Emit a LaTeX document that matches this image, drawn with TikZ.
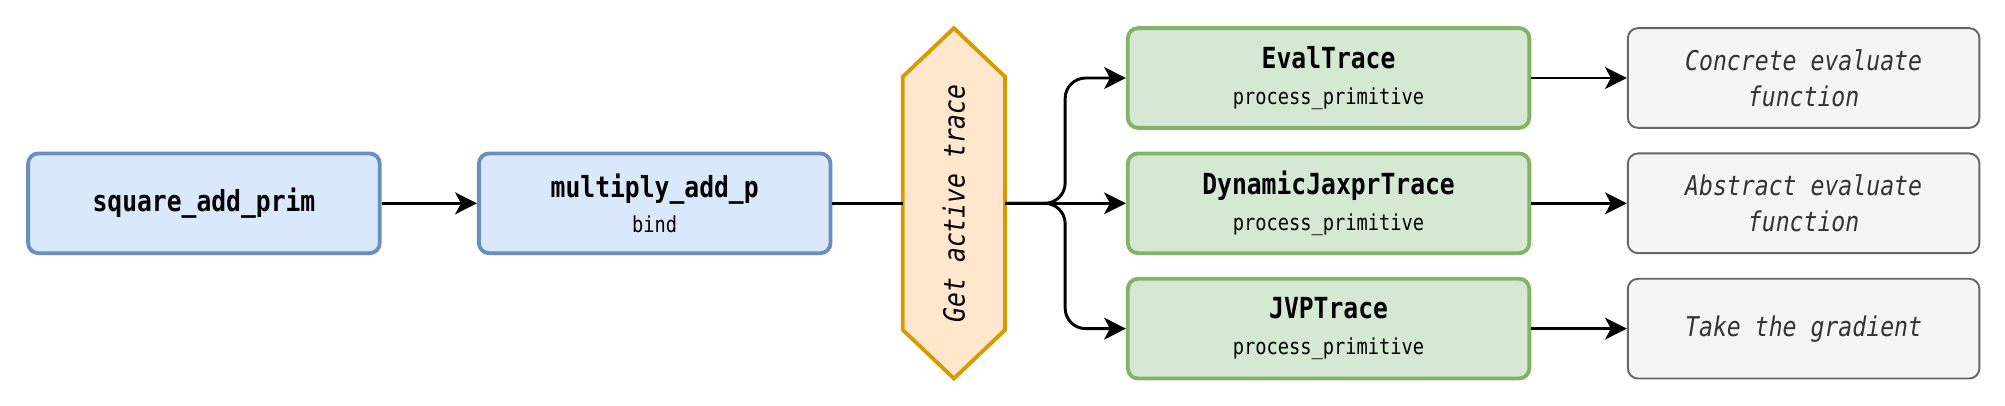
\documentclass[tikz,border=0pt]{standalone}
\usepackage{fontspec}
\usepackage{graphicx}
\setmonofont[FakeStretch=0.85,
  BoldFont={DejaVu Sans Mono Bold},
  ItalicFont={DejaVu Sans Mono Oblique}]{DejaVu Sans Mono}
\usetikzlibrary{arrows.meta}
\definecolor{blueFill}{HTML}{DAE8FC}
\definecolor{blueLine}{HTML}{6C8EBF}
\definecolor{greenFill}{HTML}{D5E8D4}
\definecolor{greenLine}{HTML}{82B366}
\definecolor{orangeFill}{HTML}{FFE6CC}
\definecolor{orangeLine}{HTML}{D79B00}
\definecolor{grayFill}{HTML}{F5F5F5}
\definecolor{grayLine}{HTML}{666666}
\definecolor{grayText}{HTML}{333333}
\newcommand\boxtitle[1]{{\bfseries\fontsize{22.7}{27}\selectfont #1}}
\newcommand\boxsub[1]{{\fontsize{17.2}{20}\selectfont #1}}
\begin{document}
\begin{tikzpicture}[x=1pt, y=-1pt,
  box/.style={draw, rounded corners=8pt, line width=3pt, minimum width=275pt,
    minimum height=78pt, align=center, inner sep=0pt,
    font=\ttfamily\fontsize{17.2}{20}\selectfont},
  bluebox/.style={box, draw=blueLine, fill=blueFill},
  greenbox/.style={box, draw=greenLine, fill=greenFill, minimum width=314pt},
  graybox/.style={box, draw=grayLine, fill=grayFill, line width=1.5pt, text=grayText,
    font=\ttfamily\itshape\fontsize{21.3}{28}\selectfont},
  link/.style={line width=2.3pt, -{Stealth[length=17pt, width=17pt, inset=4.5pt]}},
  plainlink/.style={line width=2.3pt}]
  \useasboundingbox (0,0) rectangle (1568,317);
  \node[bluebox] (square) at (159.5,159) {\boxtitle{square\_add\_prim}};
  \node[bluebox] (multiply) at (512,159) {\boxtitle{multiply\_add\_p}\\[8pt]\boxsub{bind}};
  % trace selection
  \draw[draw=orangeLine, fill=orangeFill, line width=3pt]
    (746,22) -- (786,60) -- (786,258) -- (746,296) -- (706,258) -- (706,60) -- cycle;
  \node[minimum width=80pt, minimum height=274pt, inner sep=0pt,
    font=\ttfamily\itshape\fontsize{22.7}{28}\selectfont] (active) at (746,159)
    {\rotatebox{90}{Get active trace}};
  \coordinate (fork) at (833,159);
  \node[greenbox] (eval) at (1039,61) {\boxtitle{EvalTrace}\\[8pt]\boxsub{process\_primitive}};
  \node[greenbox] (dynamic) at (1039,159) {\boxtitle{DynamicJaxprTrace}\\[8pt]\boxsub{process\_primitive}};
  \node[greenbox] (jvp) at (1039,257) {\boxtitle{JVPTrace}\\[8pt]\boxsub{process\_primitive}};
  \node[graybox] (concrete) at (1410.5,61) {Concrete evaluate\\function};
  \node[graybox] (abstract) at (1410.5,159) {Abstract evaluate\\function};
  \node[graybox] (gradient) at (1410.5,257) {Take the gradient};
  \draw[link] (square) -- (multiply);
  \draw[plainlink] (multiply) -- (active);
  \draw[link, rounded corners=16pt] (active.east) -- (fork) |- (eval.west);
  \draw[link] (active.east) -- (dynamic.west);
  \draw[link, rounded corners=16pt] (active.east) -- (fork) |- (jvp.west);
  \draw[link] (eval) -- (concrete);
  \draw[link] (dynamic) -- (abstract);
  \draw[link] (jvp) -- (gradient);
\end{tikzpicture}
\end{document}
